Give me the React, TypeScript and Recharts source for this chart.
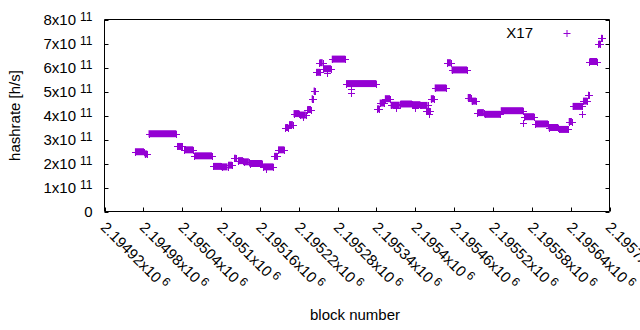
import React from "react";
import { ScatterChart, Scatter, XAxis, YAxis, ErrorBar, Legend } from "recharts";

// each run = consecutive blocks reporting the same hashrate
const runFirstBlock = [
  2194967, 2194982, 2194988, 2195032, 2195043, 2195059,
  2195088, 2195101, 2195111, 2195120, 2195126, 2195135,
  2195144, 2195165, 2195170, 2195182, 2195188, 2195199,
  2195205, 2195212, 2195222, 2195226, 2195233, 2195240,
  2195243, 2195247, 2195252, 2195258, 2195264, 2195271,
  2195293, 2195301, 2195301, 2195341, 2195345, 2195353,
  2195362, 2195377, 2195396, 2195409, 2195370, 2195400,
  2195417, 2195421, 2195424, 2195430, 2195449, 2195456,
  2195481, 2195487, 2195496, 2195507, 2195532, 2195567,
  2195568, 2195585, 2195606, 2195622, 2195637, 2195643,
  2195658, 2195659, 2195667, 2195669, 2195683, 2195687,
];
const runLastBlock = [
  2194981, 2194986, 2195031, 2195040, 2195057, 2195086,
  2195100, 2195110, 2195117, 2195123, 2195134, 2195143,
  2195164, 2195181, 2195170, 2195187, 2195198, 2195204,
  2195211, 2195221, 2195231, 2195226, 2195239, 2195242,
  2195245, 2195253, 2195257, 2195270, 2195264, 2195292,
  2195340, 2195301, 2195301, 2195344, 2195352, 2195361,
  2195376, 2195395, 2195408, 2195419, 2195370, 2195400,
  2195423, 2195421, 2195429, 2195448, 2195455, 2195480,
  2195486, 2195494, 2195506, 2195531, 2195567, 2195567,
  2195584, 2195605, 2195621, 2195636, 2195642, 2195658,
  2195658, 2195666, 2195668, 2195681, 2195686, 2195689,
];
// hashrate in units of 10^11 h/s
const runHashrate = [
  2.49, 2.4, 3.24, 2.71, 2.57, 2.32,
  1.88, 1.86, 1.93, 2.22, 2.12, 2.07,
  2.0, 1.86, 1.78, 2.3, 2.57, 3.5,
  3.62, 4.08, 4.02, 3.95, 4.25, 4.7,
  5.02, 5.8, 6.2, 5.95, 5.78, 6.35,
  5.33, 5.1, 4.92, 4.28, 4.52, 4.7,
  4.43, 4.48, 4.45, 4.42, 4.3, 4.32,
  4.17, 4.08, 4.7, 5.15, 6.2, 5.9,
  4.75, 4.6, 4.12, 4.05, 4.2, 3.7,
  3.95, 3.65, 3.5, 3.42, 3.75, 4.38,
  4.05, 4.6, 4.85, 6.25, 6.98, 7.22,
];

const xTicks = [
  2194920, 2194980, 2195040, 2195100, 2195160, 2195220, 2195280,
  2195340, 2195400, 2195460, 2195520, 2195580, 2195640, 2195700,
];
const yTicks = [0, 1e11, 2e11, 3e11, 4e11, 5e11, 6e11, 7e11, 8e11];
const seriesName = "X17";

const COLOR = "#9400d3";
const FONT = "'Liberation Sans', Arial, sans-serif";

const runStarts = runFirstBlock.map((b, i) => ({
  block: b,
  rate: runHashrate[i] * 1e11,
  span: [0, runLastBlock[i] - b],
}));
const runEnds = runLastBlock.map((b, i) => ({ block: b, rate: runHashrate[i] * 1e11 }));

const Cross = (props: any) => {
  const { cx, cy } = props;
  if (cx == null || cy == null) return null;
  const x = Math.round(cx) + 0.5;
  const y = Math.round(cy) + 0.5;
  return (
    <path
      d={`M${x - 3.5} ${y}H${x + 3.5}M${x} ${y - 3.5}V${y + 3.5}`}
      stroke={COLOR}
      strokeWidth={1}
      fill="none"
    />
  );
};

const BottomTick = (props: any) => {
  const { x, y, payload } = props;
  const px = Math.round(x) + 0.5;
  const m = parseFloat((payload.value / 1e6).toFixed(5));
  const tx = x - 1;
  const ty = y + 13;
  return (
    <g>
      <line x1={px} y1={y} x2={px} y2={y - 4} stroke="#000" />
      <text
        x={tx}
        y={ty}
        dy="0.35em"
        transform={`rotate(45 ${tx} ${ty})`}
        fontFamily={FONT}
        fontSize={15}
        fill="#000"
      >
        {m}x10
        <tspan dx={3} dy={-5} fontSize={12}>6</tspan>
      </text>
    </g>
  );
};

const TopTick = (props: any) => {
  const { x, y } = props;
  const px = Math.round(x) + 0.5;
  return <line x1={px} y1={y} x2={px} y2={y + 4} stroke="#000" />;
};

const LeftTick = (props: any) => {
  const { x, y, payload } = props;
  const py = Math.round(y) + 0.5;
  const m = Math.round(payload.value / 1e11);
  return (
    <g>
      <line x1={x} y1={py} x2={x + 4} y2={py} stroke="#000" />
      <text x={x - 12} y={y + 5} textAnchor="end" fontFamily={FONT} fontSize={15} fill="#000">
        {m === 0 ? (
          "0"
        ) : (
          <>
            {m}x10
            <tspan dx={4} dy={-4} fontSize={12}>11</tspan>
          </>
        )}
      </text>
    </g>
  );
};

const RightTick = (props: any) => {
  const { x, y } = props;
  const py = Math.round(y) + 0.5;
  return <line x1={x} y1={py} x2={x - 4} y2={py} stroke="#000" />;
};

const XTitle = (props: any) => {
  const vb = props.viewBox;
  return (
    <text x={vb.x + vb.width / 2 - 2} y={vb.y + 108.5} textAnchor="middle" fontFamily={FONT} fontSize={15} fill="#000">
      block number
    </text>
  );
};

const YTitle = (props: any) => {
  const vb = props.viewBox;
  const cy = vb.y + vb.height / 2;
  return (
    <text x={19.5} y={cy} textAnchor="middle" transform={`rotate(-90 19.5 ${cy})`} fontFamily={FONT} fontSize={15} fill="#000">
      hashrate [h/s]
    </text>
  );
};

const KeySample = () => (
  <svg width={100} height={20} style={{ display: "block" }}>
    <text x={53} y={14.5} textAnchor="end" fontFamily={FONT} fontSize={15} fill="#000">
      {seriesName}
    </text>
    <path d="M83.5 10.5H90.5M87 7V14" stroke={COLOR} strokeWidth={1} fill="none" />
  </svg>
);

export default function App() {
  return (
    <div style={{ position: "absolute", left: 0, top: 0, background: "#fff" }}>
      <ScatterChart width={640} height={330} margin={{ top: 0, right: 0, bottom: 0, left: 0 }}>
        <XAxis
          type="number"
          dataKey="block"
          domain={[2194920, 2195700]}
          ticks={xTicks}
          interval={0}
          allowDataOverflow
          height={118.5}
          tickSize={0}
          tickMargin={0}
          tickLine={false}
          tick={<BottomTick />}
          axisLine={{ stroke: "#000" }}
          label={<XTitle />}
        />
        <XAxis
          xAxisId="top"
          orientation="top"
          type="number"
          domain={[2194920, 2195700]}
          ticks={xTicks}
          interval={0}
          allowDataOverflow
          height={19.5}
          tickSize={0}
          tickMargin={0}
          tickLine={false}
          tick={<TopTick />}
          axisLine={{ stroke: "#000" }}
        />
        <YAxis
          type="number"
          dataKey="rate"
          domain={[0, 8e11]}
          ticks={yTicks}
          interval={0}
          allowDataOverflow
          width={104.5}
          tickSize={0}
          tickMargin={0}
          tickLine={false}
          tick={<LeftTick />}
          axisLine={{ stroke: "#000" }}
          label={<YTitle />}
        />
        <YAxis
          yAxisId="right"
          orientation="right"
          type="number"
          domain={[0, 8e11]}
          ticks={yTicks}
          interval={0}
          allowDataOverflow
          width={30.5}
          tickSize={0}
          tickMargin={0}
          tickLine={false}
          tick={<RightTick />}
          axisLine={{ stroke: "#000" }}
        />
        <Legend
          verticalAlign="middle"
          align="center"
          layout="horizontal"
          wrapperStyle={{ position: "absolute", top: 23, left: 480, width: 100, height: 20 }}
          content={() => <KeySample />}
        />
        <Scatter name={seriesName} data={runStarts} dataKey="rate" fill={COLOR} shape={Cross} isAnimationActive={false}>
          <ErrorBar dataKey="span" direction="x" width={0} stroke={COLOR} strokeWidth={7} isAnimationActive={false} />
        </Scatter>
        <Scatter name={seriesName} data={runEnds} dataKey="rate" fill={COLOR} shape={Cross} isAnimationActive={false} legendType="none" />
      </ScatterChart>
    </div>
  );
}
